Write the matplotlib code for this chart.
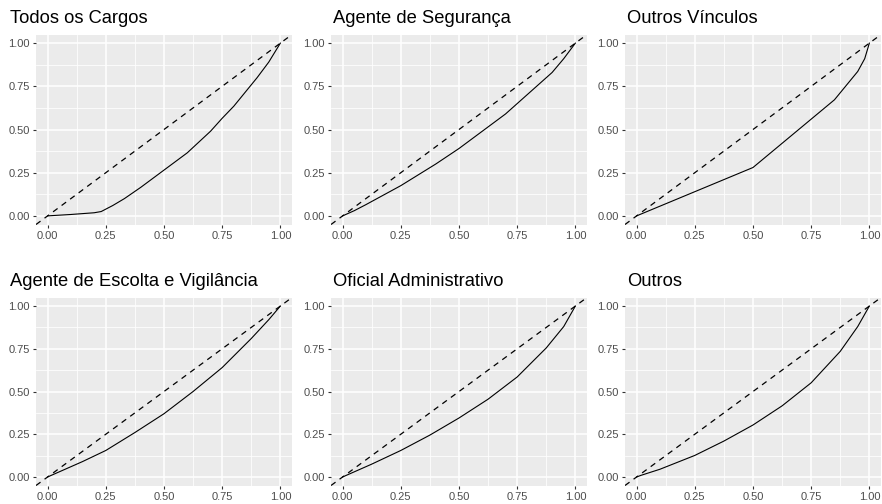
import numpy as np
import matplotlib
matplotlib.use("Agg")
import matplotlib.pyplot as plt

plt.rcParams['font.family'] = ['Liberation Sans', 'DejaVu Sans']

# ── Data: Lorenz curves ────────────────────────────────────────────────────
titles = ['Todos os Cargos', 'Agente de Segurança', 'Outros Vínculos',
          'Agente de Escolta e Vigilância', 'Oficial Administrativo', 'Outros']

x_todos = [0, 0.1, 0.2, 0.23, 0.28, 0.33, 0.4, 0.5, 0.6, 0.7, 0.75, 0.8, 0.9, 0.95, 1.0]
y_todos = [0, 0.008, 0.018, 0.025, 0.06, 0.10, 0.165, 0.265, 0.365, 0.49, 0.565, 0.635, 0.80, 0.89, 1.0]

x_seg = [0, 0.05, 0.1, 0.25, 0.4, 0.5, 0.6, 0.7, 0.75, 0.85, 0.9, 0.95, 1.0]
y_seg = [0, 0.03, 0.065, 0.175, 0.30, 0.39, 0.49, 0.59, 0.65, 0.77, 0.83, 0.91, 1.0]

x_vinc = [0, 0.5, 0.85, 0.95, 0.98, 1.0]
y_vinc = [0, 0.28, 0.672, 0.836, 0.91, 1.0]

x_escolta = [0, 0.05, 0.15, 0.25, 0.375, 0.5, 0.625, 0.75, 0.875, 0.95, 1.0]
y_escolta = [0, 0.03, 0.09, 0.155, 0.26, 0.37, 0.50, 0.64, 0.81, 0.92, 1.0]

x_oficial = [0, 0.05, 0.125, 0.25, 0.375, 0.5, 0.625, 0.75, 0.875, 0.95, 1.0]
y_oficial = [0, 0.03, 0.075, 0.155, 0.245, 0.345, 0.455, 0.585, 0.755, 0.88, 1.0]

x_outros = [0, 0.02, 0.1, 0.25, 0.375, 0.5, 0.625, 0.75, 0.875, 0.95, 1.0]
y_outros = [0, 0.01, 0.045, 0.126, 0.21, 0.304, 0.416, 0.551, 0.735, 0.88, 1.0]

curves = [(x_todos, y_todos), (x_seg, y_seg), (x_vinc, y_vinc),
          (x_escolta, y_escolta), (x_oficial, y_oficial), (x_outros, y_outros)]

ticks = [0, 0.25, 0.5, 0.75, 1.0]
tick_labels = ['0.00', '0.25', '0.50', '0.75', '1.00']
minor = [0.125, 0.375, 0.625, 0.875]

# ── Layout (pixel based, 882x504) ──────────────────────────────────────────
W, H = 882, 504
fig = plt.figure(figsize=(W / 100, H / 100), dpi=100)
lefts = [36, 331, 625]
title_x = [10, 333, 627]
width = 256
rows = [(34.5, 190), (297.5, 188)]   # (top px, height px)

for i, (title, (xs, ys)) in enumerate(zip(titles, curves)):
    r, c = divmod(i, 3)
    top, h = rows[r]
    ax = fig.add_axes([lefts[c] / W, 1 - (top + h) / H, width / W, h / H])
    ax.set_facecolor('#EBEBEB')
    for s in ax.spines.values():
        s.set_visible(False)
    ax.set_xlim(-0.05, 1.05)
    ax.set_ylim(-0.05, 1.05)
    ax.set_xticks(ticks)
    ax.set_xticklabels(tick_labels)
    ax.set_yticks(ticks)
    ax.set_yticklabels(tick_labels)
    ax.set_xticks(minor, minor=True)
    ax.set_yticks(minor, minor=True)
    ax.grid(True, which='major', color='white', linewidth=1.1)
    ax.grid(True, which='minor', color='white', linewidth=0.55)
    ax.set_axisbelow(True)
    ax.tick_params(which='major', length=2.5, width=0.8, color='#333333',
                   labelsize=8, labelcolor='#4D4D4D', pad=2)
    ax.tick_params(which='minor', length=0)

    # line of equality
    ax.axline((0, 0), slope=1, color='black', linewidth=0.9,
              dashes=(4.5, 4))
    ax.plot(xs, ys, color='black', linewidth=0.8)

    fig.text(title_x[c] / W, 1 - (top - 16) / H, title, fontsize=13.2,
             color='black', ha='left', va='center')

fig.savefig('out.png', dpi=100, facecolor='white')
